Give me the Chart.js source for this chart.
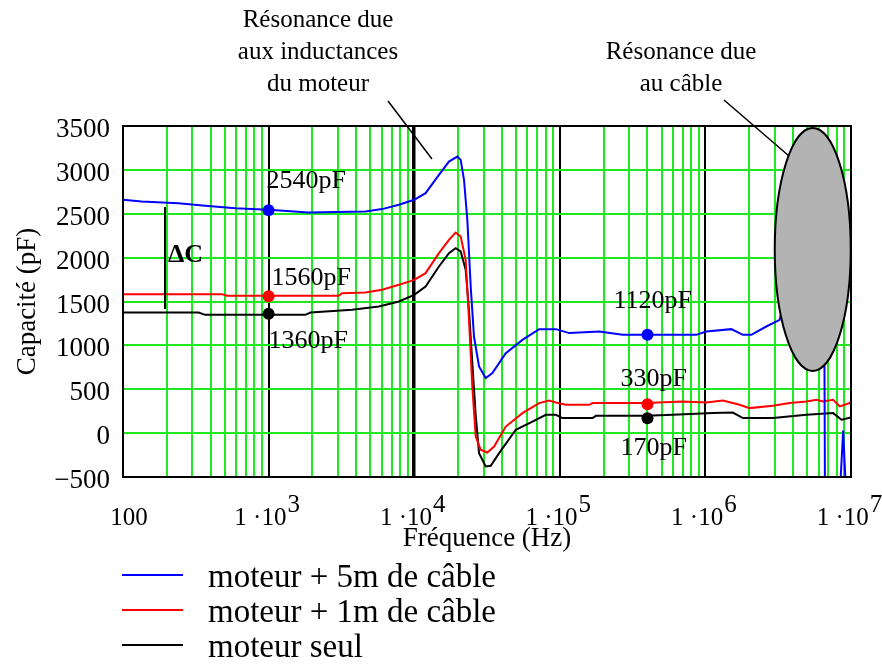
<!DOCTYPE html>
<html lang="fr">
<head>
  <meta charset="UTF-8">
  <title>Capacité en fonction de la fréquence</title>
  <script src="https://cdn.jsdelivr.net/npm/chart.js"></script>
  <style>
    body { margin: 0; background: #fff; }
    #wrap { width: 882px; height: 664px; }
  </style>
</head>
<body>
<div id="wrap"><canvas id="capChart" width="882" height="664"></canvas></div>
<script>
  const seriesNames = ['moteur + 5m de câble', 'moteur + 1m de câble', 'moteur seul'];
  const seriesColors = ['#0000ff', '#ff0000', '#000000'];

  // moteur + 5m de câble
  const freqBlue = [100, 134, 240, 367, 590, 1000, 1880, 4620, 6020, 7850, 10000, 11970, 14790, 17330, 19770,
    20860, 21980, 23170, 24440, 25740, 27880, 30990, 34440, 42560, 55370, 72100, 93950, 116100, 186600, 270200,
    405700, 864500, 1013000, 1506000, 1809000, 2067000, 2618000, 3236000, 4500000, 6000000,
    6550000, 6650000, 8380000, 8835000, 9250000, 10000000];
  const capBlue = [2660, 2640, 2620, 2590, 2564, 2545, 2514, 2525, 2553, 2602, 2659, 2735, 2944, 3095, 3152,
    3114, 2887, 2431, 1671, 1101, 759, 627, 684, 912, 1063, 1185, 1185, 1140, 1158, 1120,
    1120, 1120, 1158, 1185, 1120, 1120, 1215, 1291, 2400, 2000,
    1500, -1500, -700, 30, -700, -1500];

  // moteur + 1m de câble
  const freqRed = [100, 477, 517, 1000, 3030, 3195, 4620, 6020, 7850, 10000, 11970, 14790, 17330, 19270, 20860,
    22570, 23790, 25060, 26460, 28620, 31790, 35370, 42560, 55370, 72100, 84500, 93950, 110100, 159300, 167900,
    391600, 698900, 1013000, 1318000, 1718000, 2012000, 2909000, 3792000, 4943000, 5793000,
    6430000, 7539000, 8380000, 9074000, 10000000];
  const capRed = [1584, 1584, 1565, 1565, 1565, 1595, 1602, 1633, 1690, 1747, 1823, 2051, 2203, 2286, 2240,
    1975, 1291, 531, -39, -190, -221, -153, 75, 228, 342, 372, 349, 323, 323, 342,
    342, 361, 349, 372, 323, 285, 311, 342, 361, 380,
    361, 380, 304, 323, 349];

  // moteur seul
  const freqBlack = [100, 330, 367, 1790, 1940, 3740, 5710, 7850, 10000, 11970, 14790, 17330, 19270, 20860, 22570,
    23790, 25060, 26460, 27880, 30990, 33550, 38300, 49890, 64860, 80150, 93950, 104400, 167900, 177000, 391600,
    597000, 1125000, 1545000, 1809000, 2909000, 4943000, 7539000, 8610000, 10000000];
  const capBlack = [1375, 1375, 1348, 1348, 1375, 1405, 1443, 1500, 1576, 1671, 1899, 2051, 2108, 2070, 1861,
    1400, 800, 200, -228, -380, -373, -228, 38, 132, 209, 209, 171, 171, 197, 197,
    209, 228, 235, 171, 171, 209, 228, 152, 178];

  // points repérés
  const markerFreq = [1000, 1000, 1000, 400000, 400000, 400000];
  const markerCap = [2540, 1560, 1360, 1120, 330, 170];
  const markerText = ['2540pF', '1560pF', '1360pF', '1120pF', '330pF', '170pF'];
  const markerColors = ['#0000ff', '#ff0000', '#000000', '#0000ff', '#ff0000', '#000000'];

  const decades = [100, 1e3, 1e4, 1e5, 1e6, 1e7];
  const decadeBase = ['100', '1 ·10', '1 ·10', '1 ·10', '1 ·10', '1 ·10'];
  const decadeExp = ['', '3', '4', '5', '6', '7'];

  const FONT = '"Liberation Serif", "Times New Roman", serif';
  const GREEN = '#1ee81e';

  function zip(xs, ys) {
    return xs.map((x, i) => ({ x: x, y: ys[i] }));
  }

  // label offsets from each marker (px, baseline)
  const labelOffsets = [[-2, -22], [3, -11], [0, 34], [-34, -27], [-27, -18], [-27, 37]];

  const overlay = {
    id: 'overlay',
    afterDatasetsDraw(chart) {
      const ctx = chart.ctx;
      const xs = chart.scales.x, ys = chart.scales.y;
      const area = chart.chartArea;

      // ellipse : résonance due au câble
      const cx = xs.getPixelForValue(5.46e6);
      const cy = ys.getPixelForValue(2094);
      ctx.save();
      ctx.beginPath();
      ctx.ellipse(cx, cy, 38, 121.5, 0, 0, Math.PI * 2);
      ctx.fillStyle = '#b3b3b3';
      ctx.fill();
      ctx.lineWidth = 2;
      ctx.strokeStyle = '#000';
      ctx.stroke();

      // cadre
      ctx.lineWidth = 2;
      ctx.strokeRect(area.left, area.top, area.right - area.left, area.bottom - area.top);

      // delta C
      ctx.beginPath();
      ctx.moveTo(165, 207);
      ctx.lineTo(165, 309);
      ctx.lineWidth = 2;
      ctx.stroke();
      ctx.fillStyle = '#000';
      ctx.font = 'bold 26px ' + FONT;
      ctx.textBaseline = 'alphabetic';
      ctx.textAlign = 'left';
      ctx.fillText('ΔC', 168, 262);

      // étiquettes des points
      ctx.font = '26px ' + FONT;
      markerText.forEach((t, i) => {
        const px = xs.getPixelForValue(markerFreq[i]);
        const py = ys.getPixelForValue(markerCap[i]);
        ctx.fillText(t, px + labelOffsets[i][0], py + labelOffsets[i][1]);
      });

      // traits de renvoi
      ctx.lineWidth = 1.5;
      ctx.beginPath();
      ctx.moveTo(388, 101);
      ctx.lineTo(432, 159);
      ctx.moveTo(724, 100);
      ctx.lineTo(789, 156);
      ctx.stroke();
      ctx.restore();
    },
    afterDraw(chart) {
      const ctx = chart.ctx;
      const xs = chart.scales.x;
      ctx.save();
      ctx.fillStyle = '#000';
      ctx.textBaseline = 'alphabetic';

      // x tick labels with raised exponent
      ctx.font = '25px ' + FONT;
      ctx.textAlign = 'left';
      decades.forEach((d, i) => {
        const bw = ctx.measureText(decadeBase[i]).width;
        const ew = decadeExp[i] ? ctx.measureText(decadeExp[i]).width : 0;
        let x0 = xs.getPixelForValue(d) - (bw + ew) / 2 - 2;
        if (i === 0) x0 += 8;
        ctx.fillText(decadeBase[i], x0, 525);
        if (decadeExp[i]) ctx.fillText(decadeExp[i], x0 + bw + 1, 512);
      });

      // annotations
      ctx.textAlign = 'center';
      ctx.fillText('Résonance due', 318, 27);
      ctx.fillText('aux inductances', 318, 59);
      ctx.fillText('du moteur', 318, 91);
      ctx.fillText('Résonance due', 681, 59);
      ctx.fillText('au câble', 681, 91);

      // légende
      ctx.textAlign = 'left';
      ctx.font = '33px ' + FONT;
      chart.data.datasets.forEach((ds, i) => {
        if (!ds.label) return;
        const y = 587 + i * 35;
        ctx.beginPath();
        ctx.moveTo(122, y - 12);
        ctx.lineTo(183, y - 12);
        ctx.strokeStyle = ds.borderColor;
        ctx.lineWidth = 2;
        ctx.stroke();
        ctx.fillText(ds.label, 208, y);
      });
      ctx.restore();
    }
  };

  const lineSets = [zip(freqBlue, capBlue), zip(freqRed, capRed), zip(freqBlack, capBlack)].map((d, i) => ({
    label: seriesNames[i],
    data: d,
    borderColor: seriesColors[i],
    borderWidth: 2,
    pointRadius: 0,
    tension: 0,
    fill: false
  }));

  const markerSet = {
    label: '',
    data: zip(markerFreq, markerCap),
    showLine: false,
    pointRadius: 6,
    pointBackgroundColor: markerColors,
    pointBorderColor: markerColors,
    borderWidth: 0
  };

  const ctx = document.getElementById('capChart').getContext('2d');
  new Chart(ctx, {
    type: 'line',
    data: { datasets: lineSets.concat([markerSet]) },
    options: {
      responsive: false,
      animation: false,
      layout: { padding: { top: 126, right: 31, left: 0, bottom: 0 } },
      plugins: { legend: { display: false }, tooltip: { enabled: false } },
      scales: {
        x: {
          type: 'logarithmic',
          min: 100,
          max: 1e7,
          afterBuildTicks(scale) {
            const t = [];
            for (let e = 2; e < 7; e++) {
              for (let s = 1; s < 10; s++) t.push({ value: s * Math.pow(10, e) });
            }
            t.push({ value: 1e7 });
            scale.ticks = t;
          },
          afterFit(scale) {
            scale.height = 187;
            scale.paddingLeft = 0;
            scale.paddingRight = 0;
          },
          ticks: { display: false, autoSkip: false },
          grid: {
            drawTicks: false,
            color: (c) => decades.includes(c.tick.value) ? '#000' : GREEN,
            lineWidth: (c) => c.tick.value === 1e4 ? 3.5 : 2
          },
          border: { color: '#000', width: 2 },
          title: {
            display: true,
            text: 'Fréquence (Hz)',
            color: '#000',
            font: { family: FONT, size: 27 },
            padding: { top: 0, bottom: 109 }
          }
        },
        y: {
          min: -500,
          max: 3500,
          afterFit(scale) {
            scale.width = 123;
            scale.paddingTop = 0;
            scale.paddingBottom = 0;
          },
          ticks: {
            stepSize: 500,
            padding: 13,
            labelOffset: 4,
            color: '#000',
            font: { family: FONT, size: 27 },
            callback: (v) => v < 0 ? '\u2212' + Math.abs(v) : String(v)
          },
          grid: {
            drawTicks: false,
            color: (c) => (c.tick.value === 3500 || c.tick.value === -500) ? '#000' : GREEN,
            lineWidth: 2
          },
          border: { color: '#000', width: 2 },
          title: {
            display: true,
            text: 'Capacité (pF)',
            color: '#000',
            font: { family: FONT, size: 27 },
            padding: { top: 12, bottom: 0 }
          }
        }
      }
    },
    plugins: [overlay]
  });
</script>
</body>
</html>
